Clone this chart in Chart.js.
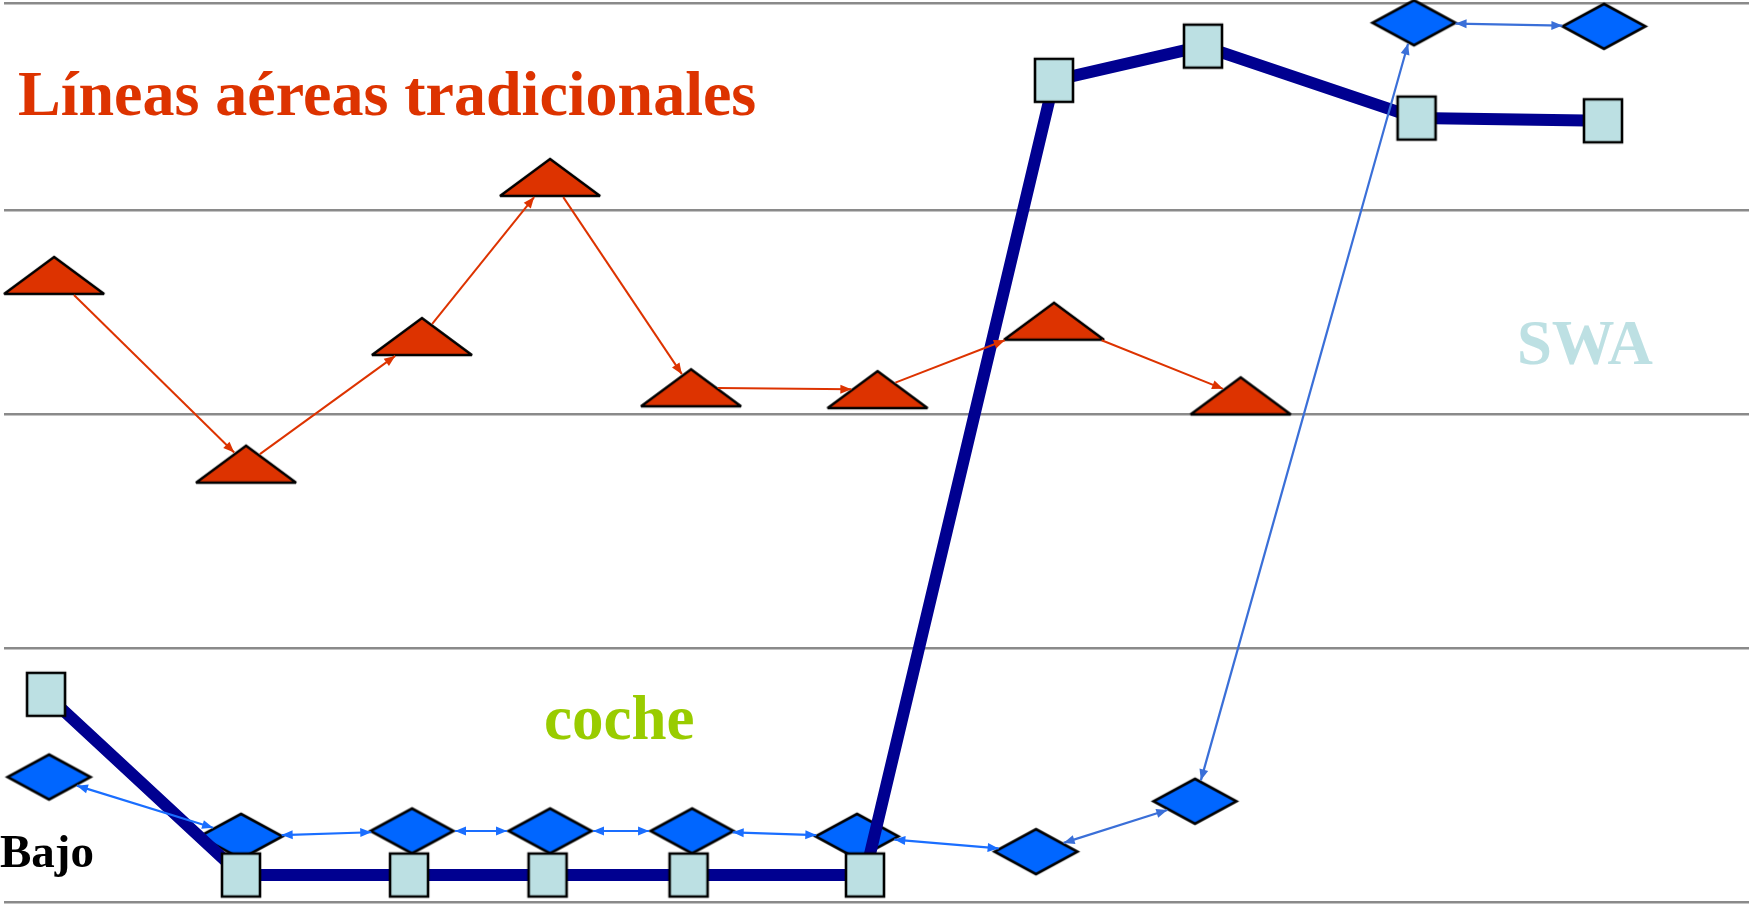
<!DOCTYPE html>
<html>
<head>
<meta charset="utf-8">
<title>Lienzo estratégico</title>
<style>
  html, body { margin: 0; padding: 0; background: #ffffff; }
  canvas { display: block; }
</style>
<script src="https://cdn.jsdelivr.net/npm/chart.js@4.4.1/dist/chart.umd.min.js"></script>
</head>
<body>
<canvas id="canvas" width="1749" height="905"></canvas>
<script>
// Strategy canvas: value curves of three offers over the competing factors.
// x = position of each factor along the canvas (0–100), y = offering level (0 = Bajo … 100 = Alto)

const traditionalX = [2.87, 13.87, 23.95, 31.29, 39.37, 50.06, 60.17, 70.87];
const traditionalY = [69.7, 48.7, 62.9, 80.6, 57.2, 57.0, 64.6, 56.3];

const swaX = [2.41, 13.58, 23.21, 31.15, 39.23, 49.34, 60.17, 68.71, 80.95, 91.63];
const swaY = [23.1, 3.0, 3.0, 3.0, 3.0, 3.0, 91.4, 95.2, 87.2, 86.9];

const carX = [2.58, 13.58, 23.38, 31.29, 39.43, 48.88, 59.14, 68.25, 80.80, 91.69];
const carY = [13.9, 7.3, 7.9, 7.9, 7.9, 7.3, 5.6, 11.2, 97.8, 97.4];

// levels where the horizontal guide lines sit
const gridLevels = [0, 28.2, 54.3, 76.9, 100];

const seriesNames = ['Líneas aéreas tradicionales', 'SWA', 'coche'];
const lowLabel = 'Bajo';

const toPoints = (xs, ys) => xs.map((x, i) => ({ x, y: ys[i] }));

// marker shapes (w × h in px) rendered once into small canvases used as point styles
const SHAPES = {
  triangle: { w: 100, h: 37 },
  rect: { w: 38, h: 43 },
  diamond: { w: 83, h: 45 }
};

function shapePolygon(kind) {
  const { w, h } = SHAPES[kind];
  if (kind === 'triangle') return [[0, -h / 2], [w / 2, h / 2], [-w / 2, h / 2]];
  if (kind === 'diamond') return [[0, -h / 2], [w / 2, 0], [0, h / 2], [-w / 2, 0]];
  return [[-w / 2, -h / 2], [w / 2, -h / 2], [w / 2, h / 2], [-w / 2, h / 2]];
}

function makeMarker(kind, fill) {
  const { w, h } = SHAPES[kind];
  const c = document.createElement('canvas');
  c.width = w + 8;
  c.height = h + 8;
  const g = c.getContext('2d');
  g.translate(c.width / 2, c.height / 2);
  g.beginPath();
  shapePolygon(kind).forEach(([px, py], i) => (i ? g.lineTo(px, py) : g.moveTo(px, py)));
  g.closePath();
  g.fillStyle = fill;
  g.fill();
  g.lineWidth = 2.6;
  g.lineJoin = 'miter';
  g.miterLimit = 3;
  g.strokeStyle = '#000000';
  g.stroke();
  return c;
}

const triangleMarker = makeMarker('triangle', '#DD3300');
const rectMarker = makeMarker('rect', '#BCE0E3');
const diamondMarker = makeMarker('diamond', '#0066FF');

// distance from a marker centre to its outline along (ux, uy)
function exitDistance(kind, ux, uy) {
  const poly = shapePolygon(kind);
  let best = 0;
  for (let i = 0; i < poly.length; i++) {
    const p = poly[i], q = poly[(i + 1) % poly.length];
    const ex = q[0] - p[0], ey = q[1] - p[1];
    const den = ux * ey - uy * ex;
    if (Math.abs(den) < 1e-9) continue;
    const t = (p[0] * ey - p[1] * ex) / den;
    const s = (p[0] * uy - p[1] * ux) / den;
    if (t > 0 && s >= -1e-6 && s <= 1 + 1e-6 && (best === 0 || t < best)) best = t;
  }
  return best + 1.5;
}

function arrowHead(ctx, x, y, ux, uy, len, half) {
  ctx.beginPath();
  ctx.moveTo(x, y);
  ctx.lineTo(x - ux * len - uy * half, y - uy * len + ux * half);
  ctx.lineTo(x - ux * len + uy * half, y - uy * len - ux * half);
  ctx.closePath();
  ctx.fill();
}

// thin arrows joining consecutive markers of a dataset, drawn above all marks
const connectorPlugin = {
  id: 'connectors',
  afterDatasetsDraw(chart) {
    const ctx = chart.ctx;
    chart.data.datasets.forEach((ds, di) => {
      const link = ds.connector;
      if (!link) return;
      const pts = chart.getDatasetMeta(di).data;
      ctx.save();
      for (let i = 0; i < pts.length - 1; i++) {
        const a = pts[i], b = pts[i + 1];
        const dx = b.x - a.x, dy = b.y - a.y;
        const len = Math.hypot(dx, dy);
        const ux = dx / len, uy = dy / len;
        const da = exitDistance(link.shape, ux, uy);
        const db = exitDistance(link.shape, -ux, -uy);
        const sx = a.x + ux * da, sy = a.y + uy * da;
        const ex = b.x - ux * db, ey = b.y - uy * db;
        const color = link.color(i);
        ctx.strokeStyle = color;
        ctx.fillStyle = color;
        ctx.lineWidth = link.width;
        ctx.beginPath();
        ctx.moveTo(sx, sy);
        ctx.lineTo(ex, ey);
        ctx.stroke();
        arrowHead(ctx, ex, ey, ux, uy, 11, 4.5);
        if (link.both) arrowHead(ctx, sx, sy, -ux, -uy, 11, 4.5);
      }
      ctx.restore();
    });
  }
};

// series names written on the canvas
const textPlugin = {
  id: 'canvasTexts',
  afterDraw(chart, args, opts) {
    const ctx = chart.ctx;
    const xs = chart.scales.x, ys = chart.scales.y;
    ctx.save();
    ctx.textAlign = 'left';
    ctx.textBaseline = 'alphabetic';
    opts.items.forEach(it => {
      ctx.font = 'bold ' + it.size + 'px "Liberation Serif", "Times New Roman", serif';
      ctx.fillStyle = it.color;
      const px = xs.getPixelForValue(it.x), py = ys.getPixelForValue(it.y);
      if (it.maxWidth) ctx.fillText(it.text, px, py, it.maxWidth);
      else ctx.fillText(it.text, px, py);
    });
    ctx.restore();
  }
};

new Chart(document.getElementById('canvas'), {
  type: 'line',
  data: {
    datasets: [
      {
        // SWA markers, above its own curve
        label: seriesNames[1],
        data: toPoints(swaX, swaY),
        showLine: false,
        pointStyle: rectMarker,
        pointRadius: 25,
        clip: false,
        order: 0
      },
      {
        // SWA value curve
        label: seriesNames[1],
        data: toPoints(swaX, swaY),
        showLine: true,
        borderColor: '#000090',
        borderWidth: 12,
        borderJoinStyle: 'round',
        borderCapStyle: 'butt',
        tension: 0,
        pointRadius: 0,
        clip: false,
        order: 1
      },
      {
        label: seriesNames[2],
        data: toPoints(carX, carY),
        showLine: false,
        pointStyle: diamondMarker,
        pointRadius: 25,
        clip: false,
        order: 2,
        connector: {
          shape: 'diamond',
          width: 2.2,
          both: true,
          color: i => (i >= 6 ? '#3A6FD8' : '#1A6EFF')
        }
      },
      {
        label: seriesNames[0],
        data: toPoints(traditionalX, traditionalY),
        showLine: false,
        pointStyle: triangleMarker,
        pointRadius: 25,
        clip: false,
        order: 3,
        connector: {
          shape: 'triangle',
          width: 2,
          both: false,
          color: () => '#DD3300'
        }
      }
    ]
  },
  options: {
    responsive: false,
    animation: false,
    events: [],
    layout: { autoPadding: false, padding: { left: 4, top: 3, right: 0, bottom: 3 } },
    plugins: {
      legend: { display: false },
      tooltip: { enabled: false },
      canvasTexts: {
        items: [
          { text: seriesNames[0], x: 0.80, y: 87.5, size: 64, color: '#DD3300' },
          { text: seriesNames[1], x: 86.70, y: 59.8, size: 63, color: '#BDE0E3', maxWidth: 136 },
          { text: seriesNames[2], x: 30.95, y: 18.1, size: 63, color: '#99CC00' },
          { text: lowLabel, x: -0.23, y: 3.9, size: 47, color: '#000000' }
        ]
      }
    },
    scales: {
      x: { type: 'linear', min: 0, max: 100, display: false },
      y: {
        type: 'linear',
        min: 0,
        max: 100,
        display: true,
        ticks: { display: false },
        border: { display: false },
        grid: { color: '#8A8A8A', lineWidth: 2.6, drawTicks: false },
        afterBuildTicks: scale => {
          scale.ticks = gridLevels.map(v => ({ value: v }));
        }
      }
    }
  },
  plugins: [connectorPlugin, textPlugin]
});
</script>
</body>
</html>
